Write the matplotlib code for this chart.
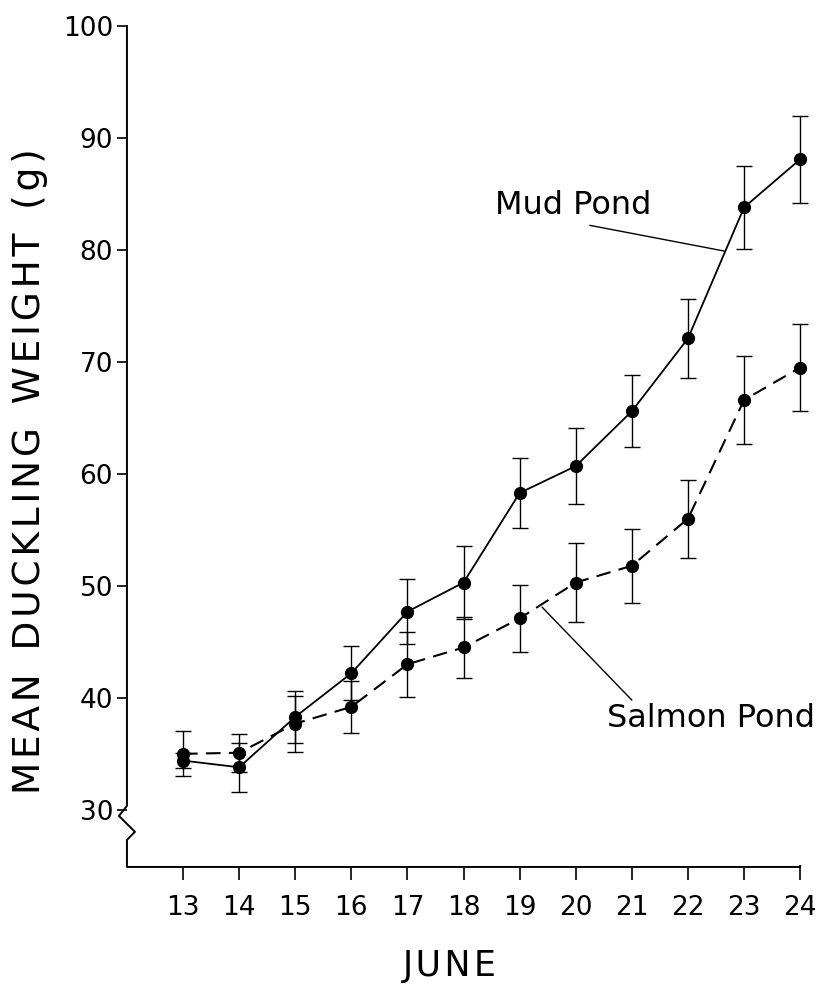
import numpy as np
import matplotlib
matplotlib.use('Agg')
import matplotlib.pyplot as plt

# June days
days = [13, 14, 15, 16, 17, 18, 19, 20, 21, 22, 23, 24]

# mean duckling weight (g) and error bars
mud = [34.4, 33.8, 38.3, 42.2, 47.7, 50.3, 58.3, 60.7, 65.6, 72.1, 83.8, 88.1]
mud_err = [0.7, 2.2, 2.3, 2.4, 2.9, 3.3, 3.1, 3.4, 3.2, 3.5, 3.7, 3.9]
salmon = [35.0, 35.1, 37.7, 39.2, 43.0, 44.5, 47.1, 50.3, 51.8, 56.0, 66.6, 69.5]
salmon_err = [2.0, 1.7, 2.5, 2.3, 2.9, 2.7, 3.0, 3.5, 3.3, 3.5, 3.9, 3.9]

yticks = [30, 40, 50, 60, 70, 80, 90, 100]

plt.rcParams['font.family'] = ['DejaVu Sans']


def spaced(s):
    # wide letter spacing like the original lettering
    return '\u200a'.join(s)


fig = plt.figure(figsize=(8.19, 9.89), dpi=100)
ax = fig.add_axes([0.155, 0.1234, 0.822, 0.8503])

x0, x1 = 12, 24
y0, y1 = 24.9, 100
ax.set_xlim(x0, x1)
ax.set_ylim(y0, y1)

ax.errorbar(days, mud, yerr=mud_err, fmt='-o', color='black', lw=1.3,
            ms=8.5, elinewidth=1.0, capsize=6, capthick=1.0, clip_on=False, zorder=3)
ax.errorbar(days, salmon, yerr=salmon_err, fmt='o', color='black',
            ms=8.5, elinewidth=1.0, capsize=6, capthick=1.0, clip_on=False, zorder=3)
ax.plot(days, salmon, color='black', lw=1.5, ls=(0, (7, 4)), zorder=2)

# axes with a broken y axis
for s in ax.spines.values():
    s.set_visible(False)
px = 1 / 56.1
py = 1 / 11.2
ax.plot([x0, x0, x0 - 8 * px, x0 + 8 * px, x0, x0, x1, x1],
        [y1, 30.36, 29.46, 28.04, 27.32, y0, y0, y0 + 1 * py],
        color='black', lw=1.4, clip_on=False, zorder=1)

ax.set_xticks(days)
ax.set_yticks(yticks)
ax.tick_params(axis='x', direction='out', length=9, width=1.2, pad=11, labelsize=19)
ax.tick_params(axis='y', direction='out', length=7, width=1.2, pad=3, labelsize=19)

# labels on the curves
ax.text(18.56, 84.0, 'Mud Pond', fontsize=23, ha='left', va='center')
ax.annotate('', xy=(22.65, 79.9), xytext=(20.25, 82.2),
            arrowprops=dict(arrowstyle='-', color='black', lw=1.0, shrinkA=0, shrinkB=0))
ax.text(20.55, 38.2, 'Salmon Pond', fontsize=23, ha='left', va='center')
ax.annotate('', xy=(19.40, 48.1), xytext=(21.0, 39.8),
            arrowprops=dict(arrowstyle='-', color='black', lw=1.0, shrinkA=0, shrinkB=0))

fig.text(450 / 819, 1 - 966 / 989, spaced('JUNE'), fontsize=25, ha='center', va='center')
fig.text(30 / 819, 1 - 471 / 989, spaced('MEAN') + '  ' + spaced('DUCKLING') + '  '
         + spaced('WEIGHT') + '  ' + spaced('(g)'), fontsize=27,
         rotation=90, ha='center', va='center')

fig.savefig('out.png', dpi=100, facecolor='white')
